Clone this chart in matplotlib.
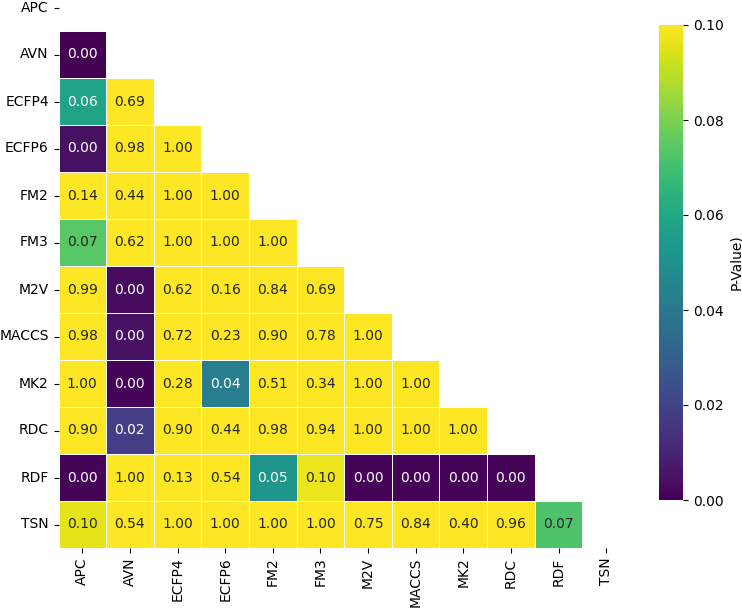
import numpy as np
import matplotlib
matplotlib.use("Agg")
import matplotlib.pyplot as plt
import seaborn as sns

labels = ["APC", "AVN", "ECFP4", "ECFP6", "FM2", "FM3", "M2V", "MACCS", "MK2", "RDC", "RDF", "TSN"]

row_AVN = [0.000]
row_ECFP4 = [0.058, 0.69]
row_ECFP6 = [0.004, 0.98, 1.00]
row_FM2 = [0.14, 0.44, 1.00, 1.00]
row_FM3 = [0.074, 0.62, 1.00, 1.00, 1.00]
row_M2V = [0.99, 0.003, 0.62, 0.16, 0.84, 0.69]
row_MACCS = [0.98, 0.004, 0.72, 0.23, 0.90, 0.78, 1.00]
row_MK2 = [1.00, 0.001, 0.28, 0.042, 0.51, 0.34, 1.00, 1.00]
row_RDC = [0.90, 0.018, 0.90, 0.44, 0.98, 0.94, 1.00, 1.00, 1.00]
row_RDF = [0.001, 1.00, 0.13, 0.54, 0.052, 0.097, 0.001, 0.001, 0.001, 0.001]
row_TSN = [0.096, 0.54, 1.00, 1.00, 1.00, 1.00, 0.75, 0.84, 0.40, 0.96, 0.072]

rows = [[], row_AVN, row_ECFP4, row_ECFP6, row_FM2, row_FM3, row_M2V,
        row_MACCS, row_MK2, row_RDC, row_RDF, row_TSN]

n = len(labels)
data = np.full((n, n), np.nan)
for i, r in enumerate(rows):
    for j, v in enumerate(r):
        data[i, j] = v
mask = np.triu(np.ones((n, n), dtype=bool))

W, H = 742, 609
fig = plt.figure(figsize=(W / 100, H / 100), dpi=100)
ax = fig.add_axes([58.5 / W, 1 - 548 / H, (630 - 58.5) / W, 564 / H])
cax = fig.add_axes([659 / W, 1 - 500 / H, 24 / W, 475 / H])

sns.heatmap(data, mask=mask, cmap="viridis", vmin=0, vmax=0.1,
            annot=True, fmt=".2f", annot_kws={"fontsize": 10},
            linewidths=0.5, linecolor="white",
            xticklabels=labels, yticklabels=labels,
            ax=ax, cbar_ax=cax, cbar_kws={"label": "P-Value)"})

ax.tick_params(axis="both", labelsize=10)
plt.setp(ax.get_xticklabels(), rotation=90)
plt.setp(ax.get_yticklabels(), rotation=0)
cax.tick_params(labelsize=10)
cax.set_yticks([0.0, 0.02, 0.04, 0.06, 0.08, 0.10])
cax.yaxis.label.set_size(10)

fig.savefig("out.png", dpi=100)
